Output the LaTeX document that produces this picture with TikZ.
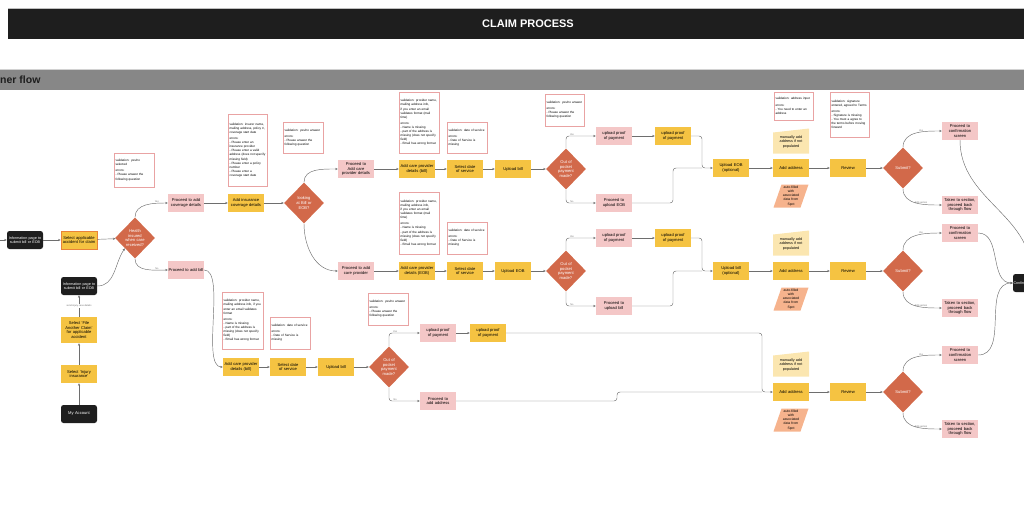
\documentclass[tikz,border=0pt]{standalone}
\usepackage{fontspec}
\setmainfont{Liberation Sans}
\usetikzlibrary{positioning,arrows.meta,shapes.geometric}
\hyphenpenalty=10000
\exhyphenpenalty=10000

\definecolor{pinkfill}{HTML}{F4C7C7}
\definecolor{goldfill}{HTML}{F5C342}
\definecolor{clayfill}{HTML}{D2694A}
\definecolor{inkfill}{HTML}{1E1E1E}
\definecolor{notered}{HTML}{E9A3A3}
\definecolor{creamfill}{HTML}{FBE6B0}
\definecolor{peachfill}{HTML}{F6B38D}
\definecolor{bandgrey}{HTML}{878787}
\definecolor{linegrey}{HTML}{6E6E6E}
\definecolor{edgeorange}{HTML}{E8833A}

\tikzset{
  box/.style={minimum width=36pt, minimum height=18pt, text width=35pt, align=center,
    inner sep=0.5pt, font=\fontsize{4.1}{4.8}\selectfont},
  pinkbox/.style={box, fill=pinkfill},
  goldbox/.style={box, fill=goldfill},
  inkbox/.style={box, fill=inkfill, rounded corners=2.5pt, text=white,
    font=\fontsize{3.7}{4.4}\selectfont},
  decision/.style={diamond, fill=clayfill, text=white, minimum width=40pt,
    minimum height=41pt, inner sep=0pt, text width=21pt, align=center,
    font=\fontsize{4.1}{4.7}\selectfont},
  note/.style={draw=notered, fill=white, line width=0.5pt, align=left, inner sep=1.5pt,
    font=\fontsize{3.1}{4.1}\selectfont},
  wire/.style={draw=linegrey, line width=0.45pt},
  conn/.style={wire, -{Stealth[length=2.6pt,width=2.2pt]}},
  lbl/.style={font=\fontsize{2.4}{2.8}\selectfont, text=linegrey, inner sep=0.5pt},
}

% name, x, y, text
\newcommand{\manualin}[4]{%
  \fill[creamfill] (#2-18,#3+12.5) -- (#2+18,#3+12.5) -- (#2+18,#3-12.5) -- (#2-18,#3-8.5) -- cycle;
  \node[box, font=\fontsize{3.7}{4.4}\selectfont] (#1) at (#2,#3+1) {#4};
}
\newcommand{\autofilled}[4]{%
  \fill[peachfill] (#2-17.5,#3+11.5) -- (#2+9.5,#3+11.5) -- (#2+17.5,#3-11.5) -- (#2-9.5,#3-11.5) -- cycle;
  \node[box, text width=20pt, font=\fontsize{3.4}{4.1}\selectfont] (#1) at (#2,#3) {#4};
}

\begin{document}
\begin{tikzpicture}[x=1pt,y=-1pt]
\useasboundingbox (0,0) rectangle (1024,514);
\clip (0,0) rectangle (1024,514);

% header and band
\fill[inkfill] (8,8) rectangle (1024,39);
\draw[gray!50, line width=0.8pt] (8,8) -- (1024,8);
\node[font=\bfseries\fontsize{11}{13}\selectfont, text=white] (title) at (528,24) {CLAIM PROCESS};
\fill[bandgrey] (0,69) rectangle (1024,90);
\draw[gray!35, line width=0.8pt] (0,69) -- (1024,69);
\node[anchor=west, inner sep=0pt, font=\bfseries\fontsize{10.5}{12}\selectfont, text=inkfill] (flow) at (0,80) {ner flow};

% entry
\coordinate (start) at (0,240);
\node[inkbox] (info1) at (25,240) {Information page to submit bill or EOB};
\node[goldbox, draw=edgeorange, line width=0.6pt] (sel) at (79,240) {Select applicable accident for claim};
\node[decision] (dia1) at (135,238) {Health insured when care received?};
\node[note, text width=37pt, minimum height=34pt] (note1) at (134,170) {validation: yes/no selected\\[2pt]errors:\\- Please answer the following question};
\node[pinkbox] (pcov) at (186,203) {Proceed to add coverage details};
\node[pinkbox] (pbill) at (186,270) {Proceed to add bill};
\node[inkbox] (info2) at (79,286) {Information page to submit bill or EOB};
\node[goldbox, minimum height=26pt] (fac) at (79,330) {Select `File Another Claim' for applicable accident};
\node[goldbox] (sii) at (79,374) {Select `Injury insurance'};
\node[inkbox, font=\fontsize{4.1}{4.7}\selectfont] (myacc) at (79,414) {My Account};

% coverage
\node[goldbox] (addins) at (246,203) {Add insurance coverage details};
\node[note, text width=36pt, minimum height=72pt] (note2) at (247.5,150) {validation: insurer name, mailing address, policy \#, coverage start date\\[2pt]errors:\\- Please enter an insurance provider\\- Please enter a valid address (does not specify missing field)\\- Please enter a policy number\\- Please enter a coverage start date};
\node[decision] (dia2) at (304,203) {looking at Bill or EOB?};
\node[note, text width=37pt, minimum height=31pt] (note3) at (303,137.5) {validation: yes/no answer\\[2pt]errors:\\- Please answer the following question};

% row 1 (bill)
\node[pinkbox] (pcare1) at (356,169) {Proceed to Add care provider details};
\node[goldbox] (acp1) at (417,169) {Add care provider details (bill)};
\node[note, text width=37pt, minimum height=61pt] (note4) at (419,122.5) {validation: provider name, mailing address info, if you enter an email validates format (mail time)\\[2pt]errors:\\- Name is missing\\- part of the address is missing (does not specify field)\\- Email has wrong format};
\node[goldbox] (sds1) at (465,169) {Select date of service};
\node[note, text width=37pt, minimum height=31pt] (note5) at (467,137.5) {validation: date of service\\[2pt]errors:\\- Date of Service is missing};
\node[goldbox] (upb1) at (513,169) {Upload bill};
\node[decision] (dia3) at (566,169) {Out of pocket payment made?};
\node[note, text width=36pt, minimum height=32pt] (note6) at (564.5,110) {validation: yes/no answer\\[2pt]errors:\\- Please answer the following question};
\node[pinkbox] (pup1) at (614,136) {upload proof of payment};
\node[goldbox] (yup1) at (673,136) {upload proof of payment};
\node[pinkbox] (pue) at (614,203) {Proceed to upload EOB};
\node[goldbox] (ueo) at (731,168) {Upload EOB (optional)};
\manualin{man1}{791}{141}{manually add address if not populated}
\node[goldbox] (aa1) at (791,168) {Add address};
\autofilled{auto1}{791}{196}{auto-filled with associated data from Spot}
\node[note, text width=36pt, minimum height=28pt] (note7) at (793.5,106) {validation: address input\\[2pt]errors:\\- You need to enter an address};
\node[goldbox] (rev1) at (848,168) {Review};
\node[note, text width=36pt, minimum height=45pt] (note8) at (849.5,114.5) {validation: signature entered, agreed to Terms\\[2pt]errors:\\- Signature is missing\\- You must a agree to the terms before moving forward};
\node[decision] (sub1) at (903,168) {Submit?};
\node[pinkbox] (pconf1) at (960,131) {Proceed to confirmation screen};
\node[pinkbox] (taken1) at (960,205) {Taken to section, proceed back through flow};

% row 2 (EOB)
\node[pinkbox] (pcare2) at (356,271) {Proceed to add care provider};
\node[goldbox] (acp2) at (417,271) {Add care provider details (EOB)};
\node[note, text width=37pt, minimum height=62pt] (note9) at (419,223) {validation: provider name, mailing address info, if you enter an email validates format (mail time)\\[2pt]errors:\\- Name is missing\\- part of the address is missing (does not specify field)\\- Email has wrong format};
\node[goldbox] (sds2) at (465,271) {Select date of service};
\node[note, text width=37pt, minimum height=32pt] (note10) at (467,238) {validation: date of service\\[2pt]errors:\\- Date of Service is missing};
\node[goldbox] (upe) at (513,271) {Upload EOB};
\node[decision] (dia4) at (566,271) {Out of pocket payment made?};
\node[pinkbox] (pup2) at (614,238) {upload proof of payment};
\node[goldbox] (yup2) at (673,238) {upload proof of payment};
\node[pinkbox] (pub) at (614,306) {Proceed to upload bill};
\node[goldbox] (ubo) at (731,271) {Upload bill (optional)};
\manualin{man2}{791}{243}{manually add address if not populated}
\node[goldbox] (aa2) at (791,271) {Add address};
\autofilled{auto2}{791}{299}{auto-filled with associated data from Spot}
\node[goldbox] (rev2) at (848,271) {Review};
\node[decision] (sub2) at (903,271) {Submit?};
\node[pinkbox] (pconf2) at (960,233) {Proceed to confirmation screen};
\node[pinkbox] (taken2) at (960,308) {Taken to section, proceed back through flow};

% row 3 (no insurance)
\node[goldbox] (acp3) at (241,367) {Add care provider details (bill)};
\node[note, text width=38pt, minimum height=57pt] (note11) at (242.5,320.5) {validation: provider name, mailing address info, if you enter an email validates format\\[2pt]errors:\\- Name is missing\\- part of the address is missing (does not specify field)\\- Email has wrong format};
\node[goldbox] (sds3) at (288,367) {Select date of service};
\node[note, text width=37pt, minimum height=32pt] (note12) at (290,333) {validation: date of service\\[2pt]errors:\\- Date of Service is missing};
\node[goldbox] (upb3) at (336,367) {Upload bill};
\node[decision] (dia5) at (389,367) {Out of pocket payment made?};
\node[note, text width=37pt, minimum height=32pt] (note13) at (388,309) {validation: yes/no answer\\[2pt]errors:\\- Please answer the following question};
\node[pinkbox] (pup3) at (438,333) {upload proof of payment};
\node[goldbox] (yup3) at (488,333) {upload proof of payment};
\node[pinkbox] (paa) at (438,401) {Proceed to add address};
\manualin{man3}{791}{364}{manually add address if not populated}
\node[goldbox] (aa3) at (791,392) {Add address};
\autofilled{auto3}{791}{420}{auto-filled with associated data from Spot}
\node[goldbox] (rev3) at (848,392) {Review};
\node[decision] (sub3) at (903,392) {Submit?};
\node[pinkbox] (pconf3) at (960,355) {Proceed to confirmation screen};
\node[pinkbox] (taken3) at (960,429) {Taken to section, proceed back through flow};

\node[inkbox, align=left] (conf) at (1031,283) {Confirmation};

% junctions
\coordinate (j1) at (702,168);
\coordinate (j2) at (673,168);
\coordinate (j3) at (702,271);
\coordinate (j4) at (673,271);
\coordinate (j5) at (762,392);
\coordinate (j6) at (617,392);

% connectors
\draw[conn] (start) -- (info1);
\draw[conn] (info1) -- (sel);
\draw[conn] (sel) -- (dia1);
\draw[conn] (dia1.north) to[out=90,in=180] node[lbl,above,pos=0.75]{Yes} (pcov.west);
\draw[conn] (dia1.south) to[out=-90,in=180] node[lbl,above,pos=0.75]{No} (pbill.west);
\draw[conn] (myacc) -- (sii);
\draw[conn] (sii) -- (fac);
\draw[conn] (fac) -- node[lbl,fill=white]{send injury case details} (info2);
\draw[conn] (info2.east) to[out=0,in=235] (dia1.south west);
\draw[conn] (pcov) -- (addins);
\draw[conn] (addins) -- (dia2);
\draw[conn] (dia2.north) to[out=90,in=180] (pcare1.west);
\draw[conn] (dia2.south) to[out=-90,in=180] (pcare2.west);
\draw[conn] (pbill.east) .. controls +(22,0) and +(-22,0) .. (acp3.west);

\draw[conn] (pcare1) -- (acp1);
\draw[conn] (acp1) -- (sds1);
\draw[conn] (sds1) -- (upb1);
\draw[conn] (upb1) -- (dia3);
\draw[conn, rounded corners=3pt] (dia3.north) |- node[lbl,above,pos=0.6]{Yes} (pup1.west);
\draw[conn, rounded corners=3pt] (dia3.south) |- node[lbl,above,pos=0.6]{No} (pue.west);
\draw[conn] (pup1) -- (yup1);
\draw[conn, rounded corners=3pt] (yup1.east) -| (j1) -- (ueo.west);
\draw[wire, rounded corners=3pt] (pue.east) -| (j2) -- (j1);
\draw[conn] (ueo) -- (aa1);
\draw[conn] (aa1) -- (rev1);
\draw[conn] (rev1) -- (sub1);
\draw[conn] (sub1.north) to[out=90,in=180] node[lbl,above,pos=0.6]{Yes} (pconf1.west);
\draw[conn] (sub1.south) to[out=-90,in=180] node[lbl,above,pos=0.6]{Edit section} (taken1.west);

\draw[conn] (pcare2) -- (acp2);
\draw[conn] (acp2) -- (sds2);
\draw[conn] (sds2) -- (upe);
\draw[conn] (upe) -- (dia4);
\draw[conn, rounded corners=3pt] (dia4.north) |- node[lbl,above,pos=0.6]{Yes} (pup2.west);
\draw[conn, rounded corners=3pt] (dia4.south) |- node[lbl,above,pos=0.6]{No} (pub.west);
\draw[conn] (pup2) -- (yup2);
\draw[conn, rounded corners=3pt] (yup2.east) -| (j3) -- (ubo.west);
\draw[wire, rounded corners=3pt] (pub.east) -| (j4) -- (j3);
\draw[conn] (ubo) -- (aa2);
\draw[conn] (aa2) -- (rev2);
\draw[conn] (rev2) -- (sub2);
\draw[conn] (sub2.north) to[out=90,in=180] node[lbl,above,pos=0.6]{Yes} (pconf2.west);
\draw[conn] (sub2.south) to[out=-90,in=180] node[lbl,above,pos=0.6]{Edit section} (taken2.west);

\draw[conn] (acp3) -- (sds3);
\draw[conn] (sds3) -- (upb3);
\draw[conn] (upb3) -- (dia5);
\draw[conn, rounded corners=3pt] (dia5.north) |- node[lbl,above,pos=0.6]{Yes} (pup3.west);
\draw[conn, rounded corners=3pt] (dia5.south) |- node[lbl,above,pos=0.6]{No} (paa.west);
\draw[conn] (pup3) -- (yup3);
\draw[conn, rounded corners=3pt] (yup3.east) -| (j5) -- (aa3.west);
\draw[wire, rounded corners=3pt] (paa.east) -| (j6) -- (j5);
\draw[conn] (aa3) -- (rev3);
\draw[conn] (rev3) -- (sub3);
\draw[conn] (sub3.north) to[out=90,in=180] node[lbl,above,pos=0.6]{Yes} (pconf3.west);
\draw[conn] (sub3.south) to[out=-90,in=180] node[lbl,above,pos=0.6]{Edit section} (taken3.west);

\draw[conn] (pconf1.south) to[out=-90,in=90] (conf.north);
\draw[conn] (pconf2.east) to[out=0,in=180] (conf.west);
\draw[conn] (pconf3.east) to[out=0,in=180] (conf.west);
\end{tikzpicture}
\end{document}
